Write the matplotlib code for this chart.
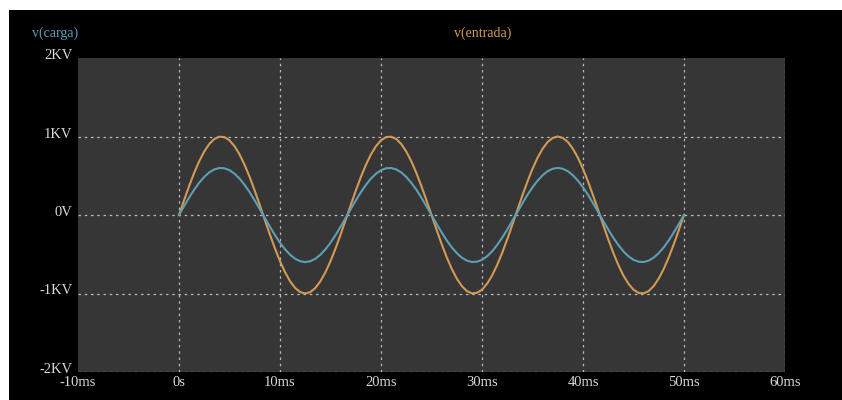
import matplotlib
matplotlib.use("Agg")
import matplotlib.pyplot as plt
import matplotlib.transforms as mtransforms
from matplotlib.patches import Rectangle

# time samples every 0.5 ms and node voltages (V)
t_ms = [i * 0.5 for i in range(101)]
v_entrada = [0, 187, 368, 536, 685, 809, 905, 969, 998, 992, 951, 876, 771, 637,
             482, 309, 125, -63, -249, -426, -588, -729, -844, -930, -982, -1000,
             -982, -930, -844, -729, -588, -426, -249, -63, 125, 309, 482, 637,
             771, 876, 951, 992, 998, 969, 905, 809, 685, 536, 368, 187, 0,
             -187, -368, -536, -685, -809, -905, -969, -998, -992, -951, -876,
             -771, -637, -482, -309, -125, 63, 249, 426, 588, 729, 844, 930, 982,
             1000, 982, 930, 844, 729, 588, 426, 249, 63, -125, -309, -482, -637,
             -771, -876, -951, -992, -998, -969, -905, -809, -685, -536, -368,
             -187, 0]
v_carga = [0, 112, 221, 322, 411, 485, 543, 581, 599, 595, 571, 526, 463, 382,
           289, 185, 75, -38, -149, -256, -353, -437, -506, -558, -589, -600,
           -589, -558, -506, -437, -353, -256, -149, -38, 75, 185, 289, 382, 463,
           526, 571, 595, 599, 581, 543, 485, 411, 322, 221, 112, 0, -112, -221,
           -322, -411, -485, -543, -581, -599, -595, -571, -526, -463, -382,
           -289, -185, -75, 38, 149, 256, 353, 437, 506, 558, 589, 600, 589, 558,
           506, 437, 353, 256, 149, 38, -75, -185, -289, -382, -463, -526, -571,
           -595, -599, -581, -543, -485, -411, -322, -221, -112, 0]

x_ticks = [-10, 0, 10, 20, 30, 40, 50, 60]
x_labels = ["-10ms", "0s", "10ms", "20ms", "30ms", "40ms", "50ms", "60ms"]
y_ticks = [-2000, -1000, 0, 1000, 2000]
y_labels = ["-2KV", "-1KV", "0V", "1KV", "2KV"]

c_entrada = "#d39a55"
c_carga = "#5c9fb6"
txt = "#d8d8d8"
serif = ["Liberation Serif", "DejaVu Serif"]

fig = plt.figure(figsize=(8.42, 4.0), dpi=100, facecolor="white")
fig.patches.append(Rectangle((9 / 842, 0), 1, 390 / 400, transform=fig.transFigure,
                             facecolor="black", edgecolor="none", zorder=-1))

ax = fig.add_axes([78 / 842, 28 / 400, 707 / 842, 314 / 400])
ax.set_facecolor("#363636")
for s in ax.spines.values():
    s.set_visible(False)

ax.plot(t_ms, v_entrada, color=c_entrada, lw=1.5, zorder=3)
ax.plot(t_ms, v_carga, color=c_carga, lw=1.5, zorder=3)

ax.set_xlim(-10, 60)
ax.set_ylim(-2000, 2000)
ax.set_xticks(x_ticks)
ax.set_xticklabels(x_labels)
ax.set_yticks(y_ticks)
ax.set_yticklabels(y_labels)
ax.tick_params(length=0, colors=txt, labelsize=10.5)
ax.tick_params(axis="x", pad=3)
ax.tick_params(axis="y", pad=4)
for lab in ax.get_xticklabels() + ax.get_yticklabels():
    lab.set_fontfamily(serif)
shift = mtransforms.ScaledTranslation(0, 4 / 100, fig.dpi_scale_trans)
for lab in ax.get_yticklabels():
    lab.set_transform(lab.get_transform() + shift)

grid_kw = dict(color="#b8b8b8", lw=0.9, ls=(0, (2, 3)), zorder=1)
for xv in x_ticks[1:]:
    ax.axvline(xv, **grid_kw)
for yv in y_ticks[:-1]:
    ax.axhline(yv, **grid_kw)

fig.text(55 / 842, 1 - 33 / 400, "v(carga)", color=c_carga, fontsize=10,
         family=serif, ha="center", va="center")
fig.text(483 / 842, 1 - 33 / 400, "v(entrada)", color=c_entrada, fontsize=10,
         family=serif, ha="center", va="center")

fig.savefig("out.png", dpi=100, facecolor=fig.get_facecolor())
